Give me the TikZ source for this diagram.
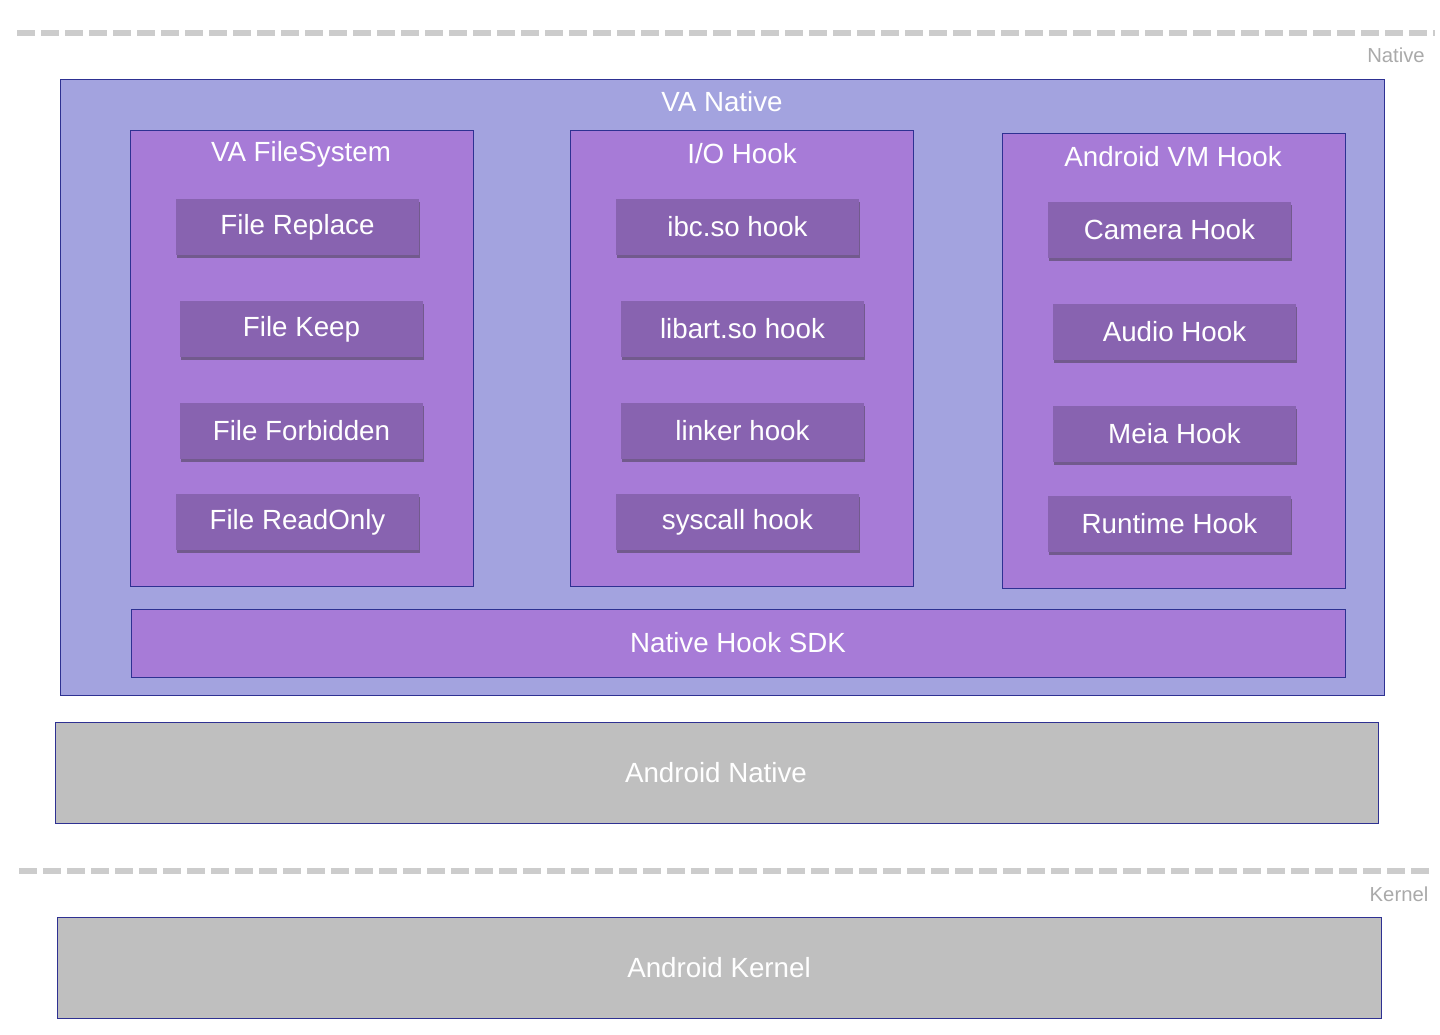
\documentclass[tikz,border=0pt]{standalone}
\usepackage{fontspec}
\setmainfont{Liberation Sans}
\usetikzlibrary{shadows}
\definecolor{vablue}{HTML}{A3A3DF}
\definecolor{vapurple}{HTML}{A77BD7}
\definecolor{vabutton}{HTML}{8863B0}
\definecolor{vaedge}{HTML}{2E3192}
\definecolor{vagray}{HTML}{BFBFBF}
\definecolor{valine}{HTML}{CCCCCC}
\definecolor{valabel}{HTML}{AAAAAA}
\tikzset{
  layer/.style={draw=vaedge, line width=0.75pt},
  title/.style={text=white, font=\fontsize{20.8}{24}\selectfont},
  hookbox/.style={fill=vabutton, text=white, minimum width=182pt, minimum height=42pt,
    inner sep=0pt, font=\fontsize{20.8}{24}\selectfont,
    drop shadow={shadow xshift=0.6pt, shadow yshift=-2.2pt, opacity=0.45, fill=black!80}},
  divider/.style={valine, line width=4.5pt, dash pattern=on 13.5pt off 4.5pt},
  zone/.style={text=valabel, font=\fontsize{15.2}{18}\selectfont}
}
\begin{document}
\begin{tikzpicture}[x=0.75pt, y=-0.75pt]
    \useasboundingbox[fill=white] (0,0) rectangle (1440,1035);

    % Linea de separacion Native
    \draw[divider] (17,33) -- (1435,33);
    \node[zone] (lnative) at (1396,55) {Native};

    % VA Native
    \draw[layer, fill=vablue] (60,79) rectangle (1384,695);
    \node[title] (vanative) at (722,102) {VA Native};

    % VA FileSystem
    \draw[layer, fill=vapurple] (130,130) rectangle (473,586);
    \node[title] (fs) at (301,154) {VA FileSystem};
    \node[hookbox] (freplace) at (297.5,227) {File Replace};
    \node[hookbox] (fkeep) at (301.5,329) {File Keep};
    \node[hookbox] (fforbid) at (301.5,431) {File Forbidden};
    \node[hookbox] (fread) at (297.5,522) {File ReadOnly};

    % I/O Hook
    \draw[layer, fill=vapurple] (570,130) rectangle (913,586);
    \node[title] (io) at (742,154) {I/O Hook};
    \node[hookbox] (ibc) at (737.5,227) {ibc.so hook};
    \node[hookbox] (libart) at (742.5,329) {libart.so hook};
    \node[hookbox] (linker) at (742.5,431) {linker hook};
    \node[hookbox] (syscall) at (737.5,522) {syscall hook};

    % Android VM Hook
    \draw[layer, fill=vapurple] (1002,133) rectangle (1345,588);
    \node[title] (vm) at (1173,157) {Android VM Hook};
    \node[hookbox] (camera) at (1169.5,230) {Camera Hook};
    \node[hookbox] (audio) at (1174.5,332) {Audio Hook};
    \node[hookbox] (media) at (1174.5,434) {Meia Hook};
    \node[hookbox] (runtime) at (1169.5,524) {Runtime Hook};

    % Native Hook SDK
    \draw[layer, fill=vapurple] (131,609) rectangle (1345,677);
    \node[title] (sdk) at (738,643) {Native Hook SDK};

    % Android Native
    \draw[layer, fill=vagray] (55,722) rectangle (1378,823);
    \node[title] (anative) at (716,773) {Android Native};

    % Linea de separacion Kernel
    \draw[divider] (19,871) -- (1435,871);
    \node[zone] (lkernel) at (1399,894) {Kernel};

    % Android Kernel
    \draw[layer, fill=vagray] (57,917) rectangle (1381,1018);
    \node[title] (akernel) at (719,968) {Android Kernel};
\end{tikzpicture}
\end{document}
